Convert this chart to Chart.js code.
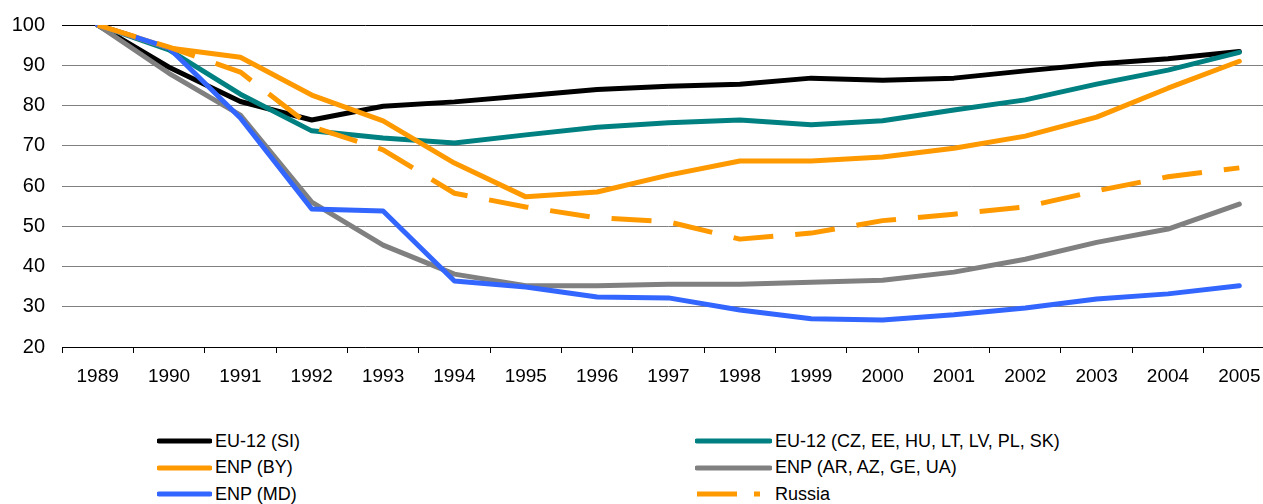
<!DOCTYPE html>
<html>
<head>
<meta charset="utf-8">
<script src="https://cdn.jsdelivr.net/npm/chart.js@4"></script>
<style>
  html, body { margin: 0; padding: 0; background: #fff; overflow: hidden; }
  #wrap { position: absolute; left: 0; top: -4px; width: 1275px; height: 404px; }
  #legend { position: absolute; left: 0; top: 428px; width: 1263px; font-family: "Liberation Sans", Arial, sans-serif; font-size: 18px; color: #000; }
  .item { position: absolute; height: 26px; display: flex; align-items: center; white-space: nowrap; }
  .item svg { margin-right: 3px; }
</style>
</head>
<body>
<div id="wrap"><canvas id="myChart"></canvas></div>
<div id="legend"></div>
<script>
const years = ['1989','1990','1991','1992','1993','1994','1995','1996','1997','1998','1999','2000','2001','2002','2003','2004','2005'];

const euSI   = [100, 89.5, 81, 76.4, 79.8, 80.9, 82.4, 84, 84.8, 85.3, 86.8, 86.3, 86.8, 88.6, 90.3, 91.6, 93.4];
const euCZ   = [100, 93.8, 82.8, 73.7, 71.9, 70.7, 72.7, 74.6, 75.7, 76.4, 75.2, 76.2, 78.9, 81.4, 85.3, 88.8, 93.2];
const enpBY  = [100, 94.3, 92, 82.6, 76.2, 65.7, 57.3, 58.5, 62.7, 66.2, 66.2, 67.2, 69.4, 72.4, 77.1, 84.3, 91];
const enpAR  = [100, 88, 77.6, 56, 45.3, 38.1, 35.2, 35.2, 35.6, 35.6, 36.1, 36.6, 38.6, 41.8, 46, 49.3, 55.5];
const enpMD  = [100, 94.3, 76.9, 54.3, 53.8, 36.4, 34.9, 32.4, 32.2, 29.2, 27, 26.7, 28, 29.7, 31.9, 33.2, 35.2];
const russia = [100, 94.5, 88.3, 74.7, 69, 58.2, 54.8, 52.1, 51.1, 46.8, 48.3, 51.4, 53, 54.8, 58.8, 62.3, 64.5];

const yTicks = [20, 30, 40, 50, 60, 70, 80, 90, 100];

function line(label, data, color, order, dash) {
  return {
    label: label,
    data: data,
    borderColor: color,
    backgroundColor: color,
    borderWidth: 5,
    borderDash: dash || [],
    borderCapStyle: dash ? 'butt' : 'round',
    borderJoinStyle: 'round',
    pointRadius: 0,
    tension: 0,
    order: order
  };
}

const datasets = [
  line('EU-12 (SI)', euSI, '#000000', 5),
  line('EU-12 (CZ, EE, HU, LT, LV, PL, SK)', euCZ, '#008080', 3),
  line('ENP (BY)', enpBY, '#FF9900', 2),
  line('ENP (AR, AZ, GE, UA)', enpAR, '#808080', 4),
  line('ENP (MD)', enpMD, '#3366FF', 1),
  line('Russia', russia, '#FF9900', 0, [40, 22])
];

const ctx = document.getElementById('myChart');
const myChart = new Chart(ctx, {
  type: 'line',
  data: { labels: years, datasets: datasets },
  options: {
    responsive: true,
    maintainAspectRatio: false,
    animation: false,
    layout: { padding: { top: 21, right: 0, bottom: 0, left: 0 } },
    plugins: { legend: { display: false }, tooltip: { enabled: false } },
    scales: {
      x: {
        offset: true,
        afterFit: function(scale) { scale.height = 53; },
        grid: { offset: true, drawOnChartArea: false, drawTicks: true, tickLength: 6, color: '#000', lineWidth: 1 },
        border: { display: true, color: '#000', width: 1 },
        ticks: { color: '#000', font: { family: 'Liberation Sans', size: 19 }, padding: 12, maxRotation: 0, autoSkip: false }
      },
      y: {
        min: 20,
        max: 100,
        afterFit: function(scale) { scale.width = 62; },
        afterBuildTicks: function(scale) { scale.ticks = yTicks.map(v => ({ value: v })); },
        grid: {
          drawTicks: false,
          color: function(c) { return c.tick && c.tick.value === 100 ? '#000' : '#808080'; },
          lineWidth: 1
        },
        border: { display: false },
        ticks: { color: '#000', font: { family: 'Liberation Sans', size: 20 }, padding: 17 }
      }
    }
  }
});

// two-column legend below the chart
const legend = document.getElementById('legend');
const cols = [{ line: 157, len: 53 }, { line: 695, len: 75 }];
datasets.forEach(function(ds, i) {
  const col = cols[i % 2];
  const row = Math.floor(i / 2);
  const dashed = ds.borderDash.length > 0;
  const len = dashed ? 65 : col.len;
  const el = document.createElement('div');
  el.className = 'item';
  el.style.left = col.line + 'px';
  el.style.top = (row * 26.5) + 'px';
  const dash = dashed ? 'stroke-dasharray="40 17"' : '';
  const cap = dashed ? 'butt' : 'round';
  el.innerHTML = '<svg width="' + (col.len + 2) + '" height="8"><line x1="2" y1="4" x2="' + len + '" y2="4" stroke="' + ds.borderColor +
    '" stroke-width="5" stroke-linecap="' + cap + '" ' + dash + '/></svg><span>' + ds.label + '</span>';
  legend.appendChild(el);
});
</script>
</body>
</html>
